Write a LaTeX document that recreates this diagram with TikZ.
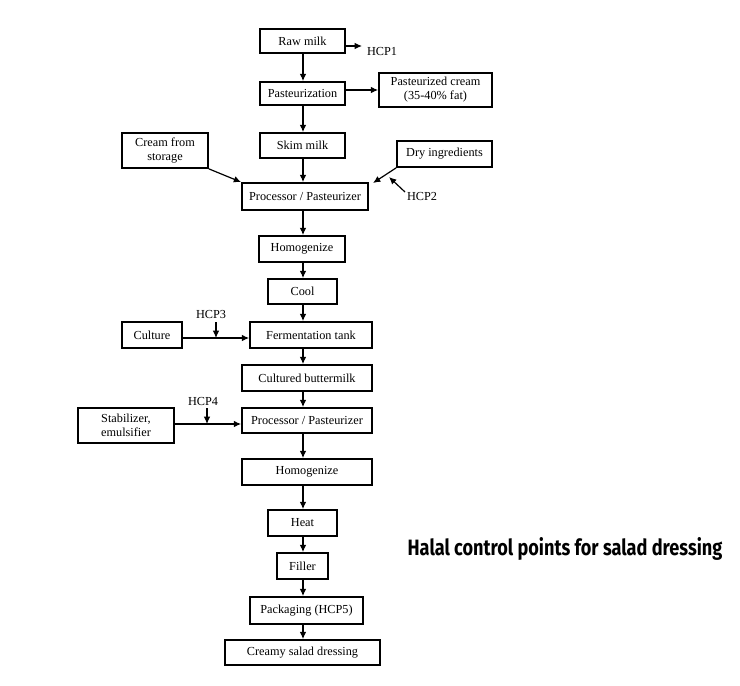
\documentclass[tikz,border=0pt]{standalone}
\usepackage{fontspec}
\setmainfont{Liberation Serif}
\newfontfamily\titlefont{Fira Sans}
\usepackage{graphicx}
\usetikzlibrary{arrows.meta}
\newlength\pxu
\setlength\pxu{0.75pt}
\tikzset{
  box/.style={draw, line width=1.3pt, inner sep=0pt, align=center, font=\fontsize{9.2}{10.5}\selectfont},
  arr/.style={line width=0.9pt, -{Latex[length=5.5pt, width=5pt]}},
  lbl/.style={inner sep=0pt, font=\fontsize{9.2}{10.5}\selectfont},
}
\begin{document}
\begin{tikzpicture}[x=0.75pt, y=-0.75pt]
\useasboundingbox (0,0) rectangle (740,686);
\coordinate (ax) at (303,0);
% main column
\node[box, minimum width=85\pxu, minimum height=24\pxu] (raw) at (302.5,41) {Raw milk};
\node[box, minimum width=85\pxu, minimum height=23\pxu] (past) at (302.5,93.5) {Pasteurization};
\node[box, minimum width=113\pxu, minimum height=34\pxu] (pcream) at (435.5,90) {Pasteurized cream\\(35-40\% fat)};
\node[box, minimum width=85\pxu, minimum height=25\pxu] (skim) at (302.5,145.5) {Skim milk};
\node[box, minimum width=86\pxu, minimum height=35\pxu] (cstore) at (165,150.5) {Cream from\\storage};
\node[box, minimum width=95\pxu, minimum height=26\pxu] (dry) at (444.5,154) {Dry ingredients};
\node[box, minimum width=126\pxu, minimum height=27\pxu] (proc1) at (305,196.5) {Processor / Pasteurizer};
\node[box, minimum width=86\pxu, minimum height=26\pxu] (homo1) at (302,249) {Homogenize};
\node[box, minimum width=69\pxu, minimum height=25\pxu] (cool) at (302.5,291.5) {Cool};
\node[box, minimum width=122\pxu, minimum height=26\pxu] (ferm) at (311,335) {Fermentation tank};
\node[box, minimum width=60\pxu, minimum height=26\pxu] (culture) at (152,335) {Culture};
\node[box, minimum width=130\pxu, minimum height=26\pxu] (cbm) at (307,378) {Cultured buttermilk};
\node[box, minimum width=130\pxu, minimum height=25\pxu] (proc2) at (307,420.5) {Processor / Pasteurizer};
\node[box, minimum width=96\pxu, minimum height=35\pxu] (stab) at (126,425.5) {Stabilizer,\\emulsifier};
\node[box, minimum width=130\pxu, minimum height=26\pxu] (homo2) at (307,472) {Homogenize};
\node[box, minimum width=69\pxu, minimum height=26\pxu] (heat) at (302.5,523) {Heat};
\node[box, minimum width=51\pxu, minimum height=26\pxu] (filler) at (302.5,566) {Filler};
\node[box, minimum width=113\pxu, minimum height=27\pxu] (pack) at (306.5,610.5) {Packaging (HCP5)};
\node[box, minimum width=155\pxu, minimum height=25\pxu] (creamy) at (302.5,652.5) {Creamy salad dressing};
% labels
\node[lbl] (hcp1) at (382,51) {HCP1};
\node[lbl] (hcp2) at (422,196) {HCP2};
\node[lbl] (hcp3) at (211,314) {HCP3};
\node[lbl] (hcp4) at (203,401) {HCP4};
\node[inner sep=0pt] (title) at (565,549) {\resizebox{236pt}{13.5pt}{\titlefont\bfseries Halal control points for salad dressing}};
% coordinates
\coordinate (h1) at (362,46);
\coordinate (h2s) at (405,192);
\coordinate (h2e) at (389,177);
\coordinate (dryend) at (373,183);
\coordinate (c3) at (216,338);
\coordinate (h3s) at (216,322);
\coordinate (c4) at (207,424);
\coordinate (h4s) at (207,408);
% vertical flow
\draw[arr] (raw.south -| ax) -- (past.north -| ax);
\draw[arr] (past.south -| ax) -- (skim.north -| ax);
\draw[arr] (skim.south -| ax) -- (proc1.north -| ax);
\draw[arr] (proc1.south -| ax) -- (homo1.north -| ax);
\draw[arr] (homo1.south -| ax) -- (cool.north -| ax);
\draw[arr] (cool.south -| ax) -- (ferm.north -| ax);
\draw[arr] (ferm.south -| ax) -- (cbm.north -| ax);
\draw[arr] (cbm.south -| ax) -- (proc2.north -| ax);
\draw[arr] (proc2.south -| ax) -- (homo2.north -| ax);
\draw[arr] (homo2.south -| ax) -- (heat.north -| ax);
\draw[arr] (heat.south -| ax) -- (filler.north -| ax);
\draw[arr] (filler.south -| ax) -- (pack.north -| ax);
\draw[arr] (pack.south -| ax) -- (creamy.north -| ax);
% side arrows
\draw[arr] (raw.east |- h1) -- (h1);
\draw[arr] (past.east |- pcream.west) -- (pcream.west);
\draw[arr] (cstore.south east) -- (proc1.north west);
\draw[arr] (dry.south west) -- (dryend);
\draw[arr] (h2s) -- (h2e);
\draw[arr] (culture.east |- c3) -- (ferm.west |- c3);
\draw[arr] (h3s) -- (c3);
\draw[arr] (stab.east |- c4) -- (proc2.west |- c4);
\draw[arr] (h4s) -- (c4);
\end{tikzpicture}
\end{document}
